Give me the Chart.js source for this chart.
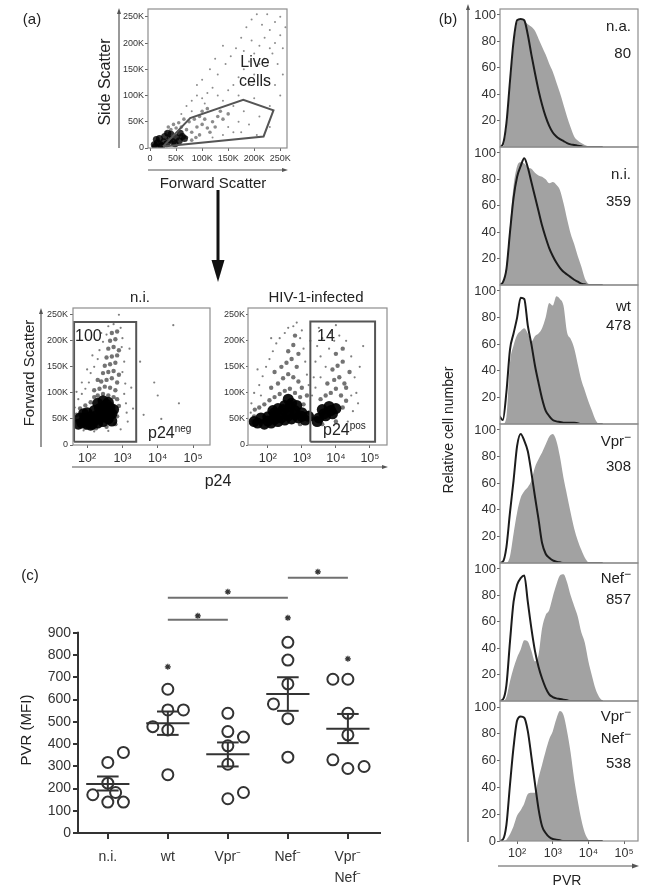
<!DOCTYPE html>
<html lang="en">
<head>
<meta charset="UTF-8">
<title>PVR expression on HIV-1 infected cells</title>
<script src="https://cdn.jsdelivr.net/npm/chart.js"></script>
<style>
  body { margin: 0; background: #fff; }
  #page { position: relative; width: 649px; height: 894px; overflow: hidden;
          font-family: "Liberation Sans", Arial, Helvetica, sans-serif; color: #222; }
  #page canvas { position: absolute; left: 0; top: 0; }
  .t { position: absolute; white-space: nowrap; font-size: 15px; line-height: 1; }
  .c { transform: translate(-50%, -50%); }
  .l { transform: translate(0, -50%); }
  .r { transform: translate(-100%, -50%); }
  .rot { transform: translate(-50%, -50%) rotate(-90deg); }
  .sup { font-size: 10px; position: relative; top: -6px; }
  .m { font-size: 12px; position: relative; top: -5px; }
</style>
</head>
<body>
<div id="page">
  <canvas id="cFsc" width="649" height="894"></canvas>
  <canvas id="cNi" width="649" height="894"></canvas>
  <canvas id="cHiv" width="649" height="894"></canvas>
  <canvas id="cH0" width="649" height="894"></canvas>
  <canvas id="cH1" width="649" height="894"></canvas>
  <canvas id="cH2" width="649" height="894"></canvas>
  <canvas id="cH3" width="649" height="894"></canvas>
  <canvas id="cH4" width="649" height="894"></canvas>
  <canvas id="cH5" width="649" height="894"></canvas>
  <canvas id="cPvr" width="649" height="894"></canvas>

  <!-- panel (a) -->
  <div class="t c" style="left:32px;top:18px">(a)</div>
  <div class="t rot" style="left:105px;top:82px;font-size:16px">Side Scatter</div>
  <div class="t c" style="left:213px;top:182px">Forward Scatter</div>
  <div class="t c" style="left:255px;top:62px;font-size:16px">Live</div>
  <div class="t c" style="left:255px;top:81px;font-size:16px">cells</div>
  <div class="t c" style="left:140px;top:296px">n.i.</div>
  <div class="t c" style="left:316px;top:296px">HIV-1-infected</div>
  <div class="t rot" style="left:28px;top:373px">Forward Scatter</div>
  <div class="t l" style="left:75px;top:336px;font-size:16px">100</div>
  <div class="t l" style="left:317px;top:336px;font-size:16px">14</div>
  <div class="t l" style="left:148px;top:433px;font-size:16px">p24<span class="sup">neg</span></div>
  <div class="t l" style="left:323px;top:430px;font-size:16px">p24<span class="sup">pos</span></div>
  <div class="t c" style="left:218px;top:481px;font-size:16px">p24</div>

  <!-- panel (b) -->
  <div class="t c" style="left:448px;top:18px">(b)</div>
  <div class="t rot" style="left:448px;top:430px;font-size:14px">Relative cell number</div>
  <div class="t c" style="left:567px;top:880px;font-size:14px">PVR</div>
  <div class="t r" style="left:631px;top:25px">n.a.</div>
  <div class="t r" style="left:631px;top:52px">80</div>
  <div class="t r" style="left:631px;top:173px">n.i.</div>
  <div class="t r" style="left:631px;top:200px">359</div>
  <div class="t r" style="left:631px;top:305px">wt</div>
  <div class="t r" style="left:631px;top:324px">478</div>
  <div class="t r" style="left:631px;top:440px">Vpr<span class="m">−</span></div>
  <div class="t r" style="left:631px;top:465px">308</div>
  <div class="t r" style="left:631px;top:577px">Nef<span class="m">−</span></div>
  <div class="t r" style="left:631px;top:598px">857</div>
  <div class="t r" style="left:631px;top:715px">Vpr<span class="m">−</span></div>
  <div class="t r" style="left:631px;top:737px">Nef<span class="m">−</span></div>
  <div class="t r" style="left:631px;top:762px">538</div>

  <!-- panel (c) -->
  <div class="t c" style="left:30px;top:574px">(c)</div>
  <div class="t rot" style="left:25px;top:730px">PVR (MFI)</div>
</div>

<script>
const W = 649, H = 894;
const FONT = '"Liberation Sans", Arial, Helvetica, sans-serif';
Chart.defaults.font.family = FONT;
Chart.defaults.color = '#333';

// ---------- (a) live cell gate: forward vs side scatter, values in K ----------
const kTicks = [0, 50, 100, 150, 200, 250];
const fscCore = [[8,6],[14,10],[20,6],[26,12],[32,8],[38,16],[44,12],[50,20],[56,14],[62,22],
  [18,18],[28,22],[40,26],[12,16],[48,8],[34,28],[22,4],[58,28],[66,18],[10,3]];
const fscMid = [[70,35],[80,30],[90,40],[100,45],[110,38],[75,50],[85,55],[95,60],[105,55],[120,50],
  [130,60],[60,40],[50,38],[40,35],[30,30],[70,20],[80,15],[95,25],[115,30],[125,40],[140,55],
  [65,55],[55,48],[100,70],[110,75],[45,45],[35,40],[88,20],[135,70],[150,65]];
const fscSparse = [[60,65],[70,80],[80,90],[90,100],[100,95],[110,105],[120,115],[130,100],[140,90],
  [150,110],[160,120],[170,135],[180,150],[190,165],[200,180],[210,195],[220,210],[230,225],[240,240],
  [250,250],[160,80],[170,100],[180,70],[190,120],[200,140],[210,160],[220,170],[230,190],[240,200],
  [250,215],[130,140],[145,160],[155,175],[165,190],[175,210],[185,230],[195,245],[205,255],[215,235],
  [225,255],[235,180],[245,160],[255,190],[150,40],[170,50],[190,45],[210,60],[230,80],[120,20],
  [140,25],[160,30],[200,95],[220,130],[240,120],[100,130],[115,150],[125,170],[140,195],[90,120],
  [80,70],[105,85],[175,30],[205,25],[230,40],[250,100],[255,140],[260,230],[195,205],[180,185]];
const liveGate = [[25,3],[77,57],[179,92],[237,72],[218,22],[25,3]];

// ---------- (a) p24 gating, x in log10 decades, y in K ----------
const decadeTicks = [2, 3, 4, 5];
const decadeLabels = ['10²', '10³', '10⁴', '10⁵'];
const niCore = [[1.85,42],[2.0,40],[2.15,40],[2.3,42],[2.45,45],[2.6,50],[1.8,52],[1.95,52],[2.1,54],
  [2.25,56],[2.4,58],[2.55,62],[2.7,60],[2.0,62],[2.2,66],[2.35,70],[2.5,74],[2.65,72],[2.6,82],
  [2.45,85],[1.9,60],[2.7,46],[2.3,80],[2.75,68],[1.9,46],[2.05,47],[2.2,48],[2.35,50],[2.5,55],
  [2.65,58],[2.4,68],[2.55,78],[2.1,38],[1.75,40]];
const niMid = [[2.3,95],[2.45,98],[2.6,95],[2.75,92],[2.35,108],[2.5,112],[2.65,110],[2.8,105],
  [2.4,122],[2.55,125],[2.7,128],[2.85,120],[2.45,138],[2.6,140],[2.75,142],[2.9,135],[2.5,152],
  [2.65,155],[2.8,158],[2.55,168],[2.7,170],[2.85,172],[2.6,185],[2.75,188],[2.9,182],[2.65,200],
  [2.8,203],[2.7,215],[2.85,218],[1.72,45],[1.7,58],[1.8,70],[1.95,76],[2.1,82],[2.2,92],[2.85,55],
  [2.9,75],[2.85,88],[1.95,33],[2.25,32],[2.55,35],[2.8,40],[2.2,105],[2.3,125]];
const niSparse = [[1.65,72],[1.75,88],[1.85,98],[1.95,108],[2.05,120],[2.1,138],[2.2,150],[2.3,165],
  [2.35,182],[2.45,198],[2.55,212],[2.6,228],[2.75,232],[2.95,225],[3.0,205],[2.98,188],[3.05,160],
  [3.0,140],[3.08,118],[3.05,98],[3.1,80],[3.12,62],[3.15,45],[2.95,30],[2.6,27],[2.2,26],[1.9,28],
  [3.25,110],[3.3,70],[3.6,58],[3.9,120],[4.44,230],[4.1,50],[3.5,160],[2.9,250],[2.4,215],
  [2.15,172],[2.0,145],[1.85,120],[1.7,102],[3.2,185],[4.6,80],[4.0,95]];
const niGate = [[1.63,6],[1.63,236],[3.39,236],[3.39,6],[1.63,6]];

const hivCore = [[1.7,42],[1.9,40],[2.1,42],[2.3,45],[2.5,48],[2.7,50],[2.9,52],[3.1,48],[1.8,52],
  [2.0,54],[2.2,56],[2.4,60],[2.6,64],[2.8,66],[3.0,62],[2.3,70],[2.5,76],[2.7,80],[2.85,76],
  [2.6,88],[3.5,52],[3.7,56],[3.9,60],[3.6,68],[3.8,74],[4.0,70],[3.45,45],[2.15,66],
  [2.0,46],[2.2,49],[2.4,52],[2.6,56],[2.8,58],[3.0,55],[2.45,68],[2.65,74],[2.2,62],[3.2,55],
  [3.65,60],[3.85,66],[1.6,45]];
const hivMid = [[1.6,55],[1.62,68],[1.75,72],[1.9,78],[2.05,86],[2.2,92],[2.35,98],[2.5,104],
  [2.65,108],[2.8,100],[2.95,92],[3.05,78],[3.2,62],[3.3,50],[2.1,110],[2.3,118],[2.45,128],
  [2.6,136],[2.75,130],[2.9,122],[3.0,110],[2.4,150],[2.55,158],[2.7,165],[2.85,150],[2.6,180],
  [2.75,192],[2.9,175],[2.8,210],[3.55,88],[3.7,95],[3.85,100],[4.0,108],[4.15,95],[4.3,85],
  [3.75,118],[3.95,125],[4.1,130],[4.25,118],[3.9,145],[4.05,152],[4.2,160],[4.4,140],[4.0,175],
  [4.2,185],[4.3,110],[4.2,72],[3.6,40],[4.0,45],[2.95,40],[1.55,45],[2.2,140],[3.15,95]];
const hivSparse = [[1.5,40],[1.52,80],[1.6,100],[1.75,115],[1.85,132],[1.95,150],[2.05,165],
  [2.15,180],[2.25,195],[2.35,205],[2.5,215],[2.6,225],[2.75,228],[2.95,205],[3.05,185],[3.1,160],
  [3.15,135],[3.2,115],[3.3,95],[3.35,130],[3.4,160],[3.45,190],[3.55,170],[3.6,205],[3.7,150],
  [3.8,185],[3.85,215],[3.95,200],[4.1,210],[4.3,200],[4.45,170],[4.55,130],[4.6,100],[4.5,65],
  [4.35,45],[4.7,150],[3.5,225],[4.0,230],[2.85,235],[2.1,205],[1.7,145],[1.8,95],[1.5,62],
  [4.8,190],[3.25,200],[3.0,220],[4.65,80],[3.4,110],[3.55,130],[4.45,95]];
const hivGate = [[3.25,6],[3.25,237],[5.15,237],[5.15,6],[3.25,6]];

// ---------- (b) PVR histograms, bins in log10 decades, % of max ----------
const pvrBins = [1.5,1.6,1.7,1.8,1.9,2.0,2.1,2.2,2.3,2.4,2.5,2.6,2.7,2.8,2.9,3.0,3.1,3.2,3.3,3.4,
  3.5,3.6,3.7,3.8,3.9,4.0,4.1,4.2,4.3,4.4];
const histTicks = [20, 40, 60, 80, 100];
const stainNA = [0,0,14,45,76,94,97,95,93,91,88,82,76,70,63,57,49,41,32,23,15,8,5,3,1.5,0.5,0,0,0,0];
const isoNA = [0,2,18,50,80,96,97,96,85,70,56,43,32,23,16,11,8,6,4.5,3,2,1.5,1,0.5,0,0,0,0,0,0];
const stainNI = [0,1,15,45,75,90,93,92,89,88,85,83,82,80,77,78,76,72,62,50,39,31,22,14,5,1,0,0,0,0];
const isoNI = [0,2,12,40,66,82,90,96,89,78,67,56,45,36,28,22,17,13,10,8,6,4,2.5,1,0.5,0,0,0,0,0];
const stainWT = [0,0,5,46,59,67,70,72,68,62,66,68,72,80,91,89,96,94,89,69,64,57,45,33,25,17,10,3,0,0];
const isoWT = [6,3,24,56,68,80,95,94,74,60,44,31,19,10,6,3,2,1.5,1,1,1,1,0.5,0,0,0,0,0,0,0];
const stainVpr = [0,0,0,5,22,38,49,54,57,62,72,78,83,89,95,97,92,80,64,51,38,26,17,10,4,0.5,0,0,0,0];
const isoVpr = [0,1,12,38,62,88,97,92,84,68,50,33,15,7,4,2,1,0.5,0,0,0,0,0,0,0,0,0,0,0,0];
const stainNef = [0,0,3,15,25,33,39,46,45,38,30,35,55,65,69,79,88,95,96,90,80,72,64,52,44,30,19,9,3,0];
const isoNef = [0,1,12,45,75,88,93,95,75,55,38,26,17,10,5,3,2,1.5,1,0.5,0,0,0,0,0,0,0,0,0,0];
const stainVprNef = [0,0,1,5,11,19,23,28,35,36,36,47,57,67,76,82,91,97,94,82,66,46,30,16,6,1,0,0,0,0];
const isoVprNef = [0,1,12,42,70,90,93,92,82,63,43,24,11,6,3,1.5,1,0.5,0,0,0,0,0,0,0,0,0,0,0,0];

// ---------- (c) PVR MFI per donor ----------
const groups = ['n.i.', 'wt', 'Vpr⁻', 'Nef⁻', ['Vpr⁻', 'Nef⁻']];
const mfiTicks = [0, 100, 200, 300, 400, 500, 600, 700, 800, 900];
const mfiNI = [172, 317, 362, 224, 182, 139, 139];
const jitterNI = [-0.25, 0, 0.26, 0, 0.13, 0, 0.26];
const mfiWT = [478, 553, 553, 646, 463, 262];
const jitterWT = [-0.25, 0, 0.26, 0, 0, 0];
const mfiVpr = [538, 456, 431, 392, 309, 182, 154];
const jitterVpr = [0, 0, 0.26, 0, 0, 0.26, 0];
const mfiNef = [857, 777, 580, 670, 514, 341];
const jitterNef = [0, 0, -0.24, 0, 0, 0];
const mfiVprNef = [691, 691, 538, 441, 329, 290, 299];
const jitterVprNef = [-0.25, 0, 0, 0, -0.25, 0, 0.27];
const meanMfi = [220, 493, 354, 625, 468];
const semHigh = [254, 546, 407, 700, 535];
const semLow = [191, 441, 299, 549, 404];
const starGroup = [1, 3, 4];
const starMfi = [747, 967, 783];
const sigFrom = [1, 1, 3];
const sigTo = [2, 3, 4];
const sigMfi = [958, 1057, 1147];
const sigStarMfi = [976, 1084, 1174];

// ---------- helpers ----------
const pts = arr => arr.map(p => ({ x: p[0], y: p[1] }));

function arrow(ctx, x1, y1, x2, y2, lw, hl, hw, col) {
  const a = Math.atan2(y2 - y1, x2 - x1);
  const bx = x2 - hl * Math.cos(a), by = y2 - hl * Math.sin(a);
  ctx.save();
  ctx.strokeStyle = col; ctx.fillStyle = col; ctx.lineWidth = lw;
  ctx.beginPath(); ctx.moveTo(x1, y1); ctx.lineTo(bx, by); ctx.stroke();
  ctx.beginPath(); ctx.moveTo(x2, y2);
  ctx.lineTo(bx + hw / 2 * Math.sin(a), by - hw / 2 * Math.cos(a));
  ctx.lineTo(bx - hw / 2 * Math.sin(a), by + hw / 2 * Math.cos(a));
  ctx.closePath(); ctx.fill();
  ctx.restore();
}

function frame(ctx, a) {
  ctx.save();
  ctx.strokeStyle = '#8e8e8e'; ctx.lineWidth = 1.2;
  ctx.strokeRect(a.left, a.top, a.right - a.left, a.bottom - a.top);
  ctx.restore();
}

function axis(min, max, ticks, fmt, size, tickLen, pad, show) {
  return {
    type: 'linear', min, max,
    afterBuildTicks: s => { s.ticks = ticks.map(v => ({ value: v })); },
    ticks: { display: show !== false, callback: (v, i) => fmt(v, i), font: { size },
             color: '#333', padding: pad, maxRotation: 0, autoSkip: false },
    grid: { display: show !== false, drawOnChartArea: false, tickLength: tickLen, color: '#666', lineWidth: 1 },
    border: { display: false }
  };
}

function makeChart(id, area, datasets, xScale, yScale, deco) {
  xScale.afterFit = s => { s.height = H - area.b; };
  yScale.afterFit = s => { s.width = area.l; };
  return new Chart(document.getElementById(id), {
    type: 'scatter',
    data: { datasets },
    options: {
      responsive: false, animation: false, devicePixelRatio: 1, events: [],
      layout: { autoPadding: false, padding: { left: 0, top: area.t, right: W - area.r, bottom: 0 } },
      plugins: { legend: { display: false }, tooltip: { enabled: false } },
      scales: { x: xScale, y: yScale }
    },
    plugins: [{ id: 'deco', afterDraw: c => deco && deco(c.ctx, c.chartArea, c) }]
  });
}

// Chart.js paints the first dataset last, so marks meant to sit on top come first
function cloud(data, r, alpha) {
  return { data: pts(data), pointRadius: r, pointBorderWidth: 0,
           pointBackgroundColor: 'rgba(0,0,0,' + alpha + ')' };
}
function gate(data) {
  return { type: 'line', data: pts(data), showLine: true, borderColor: '#555', borderWidth: 2,
           pointRadius: 0, fill: false, tension: 0 };
}
const kFmt = v => v === 0 ? '0' : v + 'K';
const decFmt = v => decadeLabels[decadeTicks.indexOf(v)];

// ---------- (a) charts ----------
makeChart('cFsc', { l: 148, t: 9, r: 287, b: 148 },
  [gate(liveGate), cloud(fscCore, 3.5, 0.8), cloud(fscMid, 1.8, 0.45), cloud(fscSparse, 1, 0.45)],
  axis(-4, 263, kTicks, kFmt, 9, 3, 2), axis(0, 265, kTicks, kFmt, 9, 3, 1),
  (ctx, a) => {
    frame(ctx, a);
    arrow(ctx, a.left - 29, a.bottom, a.left - 29, a.top - 1, 1.2, 6, 4, '#555');
    arrow(ctx, a.left, a.bottom + 22, a.right + 1, a.bottom + 22, 1.2, 6, 4, '#555');
    arrow(ctx, 218, 190, 218, 282, 3, 22, 13, '#111');
  });

makeChart('cNi', { l: 73, t: 308, r: 210, b: 445 },
  [gate(niGate), cloud(niCore, 5.5, 0.92), cloud(niMid, 2.2, 0.55), cloud(niSparse, 1.1, 0.5)],
  axis(1.6, 5.48, decadeTicks, decFmt, 12.5, 3, 3), axis(0, 263, kTicks, kFmt, 9, 3, 2),
  (ctx, a) => {
    frame(ctx, a);
    arrow(ctx, a.left - 32, a.bottom + 2, a.left - 32, a.top, 1.2, 6, 4, '#555');
    arrow(ctx, a.left - 1, 467, 388, 467, 1.2, 6, 4, '#555');
  });

makeChart('cHiv', { l: 248, t: 308, r: 387, b: 445 },
  [gate(hivGate), cloud(hivCore, 5.5, 0.92), cloud(hivMid, 2.2, 0.55), cloud(hivSparse, 1.1, 0.5)],
  axis(1.42, 5.5, decadeTicks, decFmt, 12.5, 3, 3), axis(0, 263, kTicks, kFmt, 9, 2, 1),
  (ctx, a) => frame(ctx, a));

// ---------- (b) histogram stack ----------
const histPanels = [[stainNA, isoNA], [stainNI, isoNI], [stainWT, isoWT],
                    [stainVpr, isoVpr], [stainNef, isoNef], [stainVprNef, isoVprNef]];
const panelTops = [9, 147, 285, 424, 563, 701];
const panelBottoms = [147, 285, 424, 563, 701, 841];

histPanels.forEach((p, k) => {
  const last = k === histPanels.length - 1;
  const stain = { type: 'line', data: pvrBins.map((x, i) => ({ x, y: p[0][i] })), fill: 'origin',
    backgroundColor: '#a2a2a2', borderWidth: 0, pointRadius: 0, tension: 0.25,
    cubicInterpolationMode: 'monotone' };
  const iso = { type: 'line', data: pvrBins.map((x, i) => ({ x, y: p[1][i] })), fill: false,
    borderColor: '#1c1c1c', borderWidth: 2, pointRadius: 0, tension: 0.25,
    cubicInterpolationMode: 'monotone' };
  makeChart('cH' + k, { l: 500, t: panelTops[k], r: 638, b: panelBottoms[k] }, [iso, stain],
    axis(1.52, 5.39, decadeTicks, decFmt, 12.5, 3, 2, last),
    axis(0, 104.5, last ? [0].concat(histTicks) : histTicks, v => String(v), 13, 3, 1),
    (ctx, a) => {
      frame(ctx, a);
      if (last) {
        arrow(ctx, 468, a.bottom + 1, 468, 4, 1.2, 6, 4, '#555');
        arrow(ctx, a.left - 2, 866, a.right + 1, 866, 1.2, 7, 5, '#555');
      }
    });
});

// ---------- (c) dot plot with mean ± SEM ----------
const mfiGroups = [[mfiNI, jitterNI], [mfiWT, jitterWT], [mfiVpr, jitterVpr],
                   [mfiNef, jitterNef], [mfiVprNef, jitterVprNef]];
const dark = '#333';
const seg = (x1, y1, x2, y2, col, w) => ({ type: 'line', data: [{ x: x1, y: y1 }, { x: x2, y: y2 }],
  borderColor: col, borderWidth: w, pointRadius: 0, fill: false, clip: false });
const pvrSets = [];
mfiGroups.forEach((g, i) => {
  pvrSets.push(seg(i - 0.36, meanMfi[i], i + 0.36, meanMfi[i], dark, 2));
  pvrSets.push(seg(i, semLow[i], i, semHigh[i], dark, 2));
  pvrSets.push(seg(i - 0.18, semLow[i], i + 0.18, semLow[i], dark, 2));
  pvrSets.push(seg(i - 0.18, semHigh[i], i + 0.18, semHigh[i], dark, 2));
  pvrSets.push({ data: g[0].map((v, k) => ({ x: i + g[1][k], y: v })), pointRadius: 5.5,
    pointBorderWidth: 2, pointBorderColor: dark, pointBackgroundColor: 'rgba(0,0,0,0)' });
});
sigFrom.forEach((f, k) => pvrSets.push(seg(f, sigMfi[k], sigTo[k], sigMfi[k], '#707070', 2)));
pvrSets.push({ data: starGroup.map((g, k) => ({ x: g, y: starMfi[k] }))
    .concat(sigFrom.map((f, k) => ({ x: (f + sigTo[k]) / 2, y: sigStarMfi[k] }))),
  pointStyle: 'star', pointRadius: 3, pointBorderWidth: 1.2, pointBorderColor: dark });

const xPvr = axis(-0.48, 4.535, [0, 1, 2, 3, 4], (v, i) => groups[i], 14, 6, 8);
xPvr.ticks.font = { size: 14, lineHeight: 1.5 };
xPvr.grid = { display: true, drawOnChartArea: false, tickLength: 6, color: dark, lineWidth: 2 };
xPvr.border = { display: true, color: dark, width: 2 };
// the value range runs above 900 so the significance marks sit inside the plot area
const yPvr = axis(0, 1200, mfiTicks, v => String(v), 14, 6, 2);
yPvr.grid = { display: true, drawOnChartArea: false, tickLength: 6, color: dark, lineWidth: 2 };
makeChart('cPvr', { l: 79, t: 566, r: 380, b: 833 }, pvrSets, xPvr, yPvr,
  (ctx, a, c) => {
    const ys = c.scales.y;
    ctx.save();
    ctx.strokeStyle = dark; ctx.lineWidth = 2;
    ctx.beginPath();
    ctx.moveTo(a.left - 1, ys.getPixelForValue(0) + 1);
    ctx.lineTo(a.left - 1, ys.getPixelForValue(mfiTicks[mfiTicks.length - 1]) - 1);
    ctx.stroke();
    ctx.restore();
  });
</script>
</body>
</html>
